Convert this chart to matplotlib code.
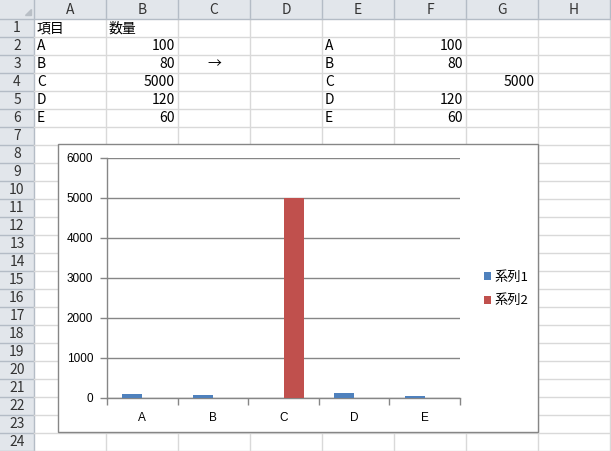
import matplotlib.pyplot as plt
from matplotlib.patches import Rectangle

plt.rcParams['font.family'] = ['Noto Sans CJK JP', 'DejaVu Sans']

# Data
col_letters = ['A', 'B', 'C', 'D', 'E', 'F', 'G', 'H']
header_a = '項目'
header_b = '数量'
items = ['A', 'B', 'C', 'D', 'E']
amounts = [100, 80, 5000, 120, 60]
series1 = [100, 80, 0, 120, 60]
series2 = [0, 0, 5000, 0, 0]
series_names = ['系列1', '系列2']
y_ticks = [0, 1000, 2000, 3000, 4000, 5000, 6000]

W, H = 611, 451
fig = plt.figure(figsize=(W / 100, H / 100), dpi=100)

# sheet background in pixel coords
sheet = fig.add_axes([0, 0, 1, 1])
sheet.set_xlim(0, W)
sheet.set_ylim(H, 0)
sheet.axis('off')

row_w, hdr_h, col_w, row_h = 34, 19, 72, 18
grid_c = '#d9d9d9'
hdr_bg = '#e2e6eb'
hdr_line = '#b4bcc6'

# headers
sheet.add_patch(Rectangle((0, 0), W, hdr_h, color=hdr_bg, lw=0))
sheet.add_patch(Rectangle((0, 0), row_w, H, color=hdr_bg, lw=0))
sheet.fill([25, 31, 31], [15, 15, 9], color='#b9bfc6')

for i, c in enumerate(col_letters):
    x0 = row_w + i * col_w
    sheet.plot([x0 + col_w, x0 + col_w], [0, hdr_h], color=hdr_line, lw=1)
    sheet.plot([x0 + col_w, x0 + col_w], [hdr_h, H], color=grid_c, lw=1)
    sheet.text(x0 + col_w / 2, hdr_h / 2 + 0.5, c, ha='center', va='center',
               fontsize=10, color='#333333')
sheet.plot([row_w, row_w], [0, H], color=hdr_line, lw=1)
sheet.plot([0, W], [hdr_h, hdr_h], color=hdr_line, lw=1)

for r in range(1, 25):
    y0 = hdr_h + (r - 1) * row_h
    sheet.plot([0, row_w], [y0 + row_h, y0 + row_h], color=hdr_line, lw=1)
    sheet.plot([row_w, W], [y0 + row_h, y0 + row_h], color=grid_c, lw=1)
    sheet.text(row_w / 2, y0 + row_h / 2 + 0.5, str(r), ha='center', va='center',
               fontsize=10, color='#333333')


def cell_text(col, row, s, align='left'):
    x0 = row_w + col * col_w
    y = hdr_h + (row - 1) * row_h + row_h / 2 + 0.5
    if align == 'left':
        sheet.text(x0 + 3, y, s, ha='left', va='center', fontsize=10, color='black')
    elif align == 'right':
        sheet.text(x0 + col_w - 3, y, s, ha='right', va='center', fontsize=10, color='black')
    else:
        sheet.text(x0 + col_w / 2, y, s, ha='center', va='center', fontsize=10, color='black')


cell_text(0, 1, header_a)
cell_text(1, 1, header_b)
for k, (it, v) in enumerate(zip(items, amounts)):
    cell_text(0, k + 2, it)
    cell_text(1, k + 2, str(v), 'right')
    cell_text(4, k + 2, it)
    if it == 'C':
        cell_text(6, k + 2, str(v), 'right')
    else:
        cell_text(5, k + 2, str(v), 'right')
cell_text(2, 3, '→', 'center')

# chart frame
sheet.add_patch(Rectangle((58, 144), 480, 288, facecolor='white',
                          edgecolor='#868686', lw=1, zorder=3))

# chart plot area
ax = fig.add_axes([107 / W, 1 - 398 / H, (460 - 107) / W, (398 - 158) / H])
ax.set_zorder(5)
ax.patch.set_alpha(0)
x = list(range(len(items)))
bw = 20 / 70.4
b1 = ax.bar([i - bw for i in x], series1, width=bw, align='edge', color='#4f81bd',
            label=series_names[0], zorder=3)
b2 = ax.bar(x, series2, width=bw, align='edge', color='#c0504d',
            label=series_names[1], zorder=3)
ax.set_xlim(-0.5, len(items) - 0.5)
ax.set_ylim(0, 6000)
ax.set_yticks(y_ticks)
ax.yaxis.grid(True, color='#868686', lw=1)
ax.set_axisbelow(True)
ax.set_xticks([i - 0.5 for i in range(len(items) + 1)], minor=False)
ax.set_xticklabels([])
ax.set_xticks(x, minor=True)
ax.set_xticklabels(items, minor=True, fontsize=8.5, family=['Liberation Sans'])
ax.tick_params(axis='x', which='major', length=5, color='#868686', width=1)
ax.tick_params(axis='x', which='minor', length=0, pad=10)
ax.tick_params(axis='y', length=5, color='#868686', width=1, labelsize=8.5, pad=5)
for lab in ax.get_yticklabels():
    lab.set_family(['Liberation Sans'])
for s in ['top', 'right']:
    ax.spines[s].set_visible(False)
for s in ['left', 'bottom']:
    ax.spines[s].set_color('#868686')
    ax.spines[s].set_linewidth(1)

ax.legend(handles=[b1, b2], loc='upper left', bbox_to_anchor=(472 / W, 1 - 259 / H),
          bbox_transform=fig.transFigure, frameon=False, fontsize=9.5,
          handlelength=0.55, handleheight=0.55, handletextpad=0.25, labelspacing=0.8)

fig.savefig('out.png', dpi=100)
